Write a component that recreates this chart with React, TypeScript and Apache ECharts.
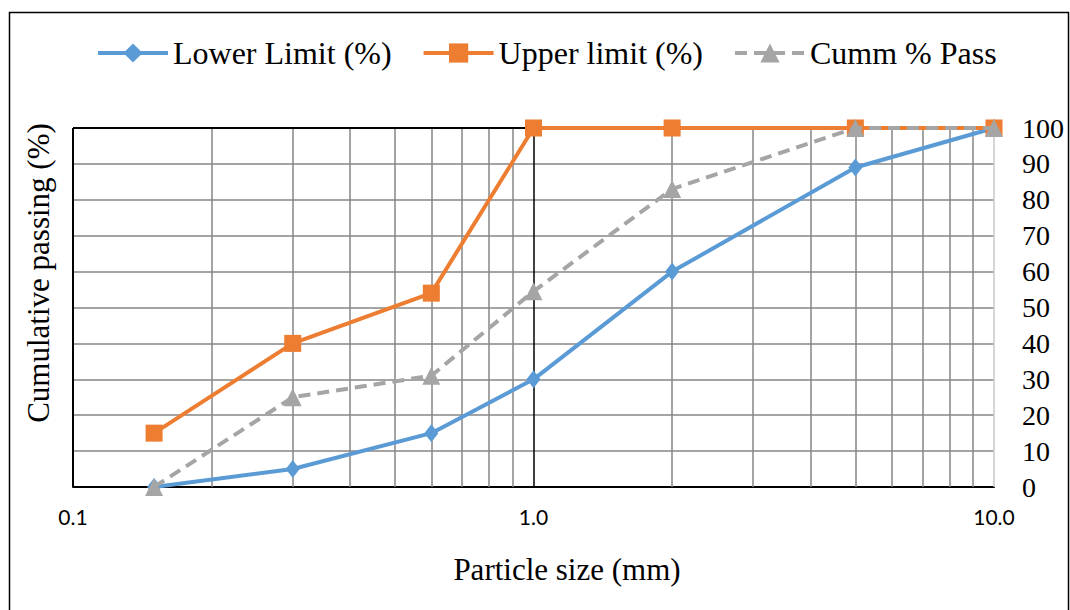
import React, { useEffect, useRef } from "react";
import * as echarts from "echarts";

const sizes = [0.15, 0.3, 0.6, 1.0, 2.0, 5.0, 10.0];
const lowerLimit = [0, 5, 15, 30, 60, 89, 100];
const upperLimit = [15, 40, 54, 100, 100, 100, 100];
const cummPass = [0, 25, 31, 54.5, 83, 100, 100];
const seriesNames = ["Lower Limit (%)", "Upper limit (%)", "Cumm % Pass"];
const minorGridValues = [0.2, 0.3, 0.4, 0.5, 0.6, 0.7, 0.8, 0.9, 2, 3, 4, 5, 6, 7, 8, 9];
const xTitle = "Particle size (mm)";
const yTitle = "Cumulative passing (%)";

const SERIF = "'Liberation Serif', 'Times New Roman', serif";

export default function App() {
  const ref = useRef<HTMLDivElement>(null);
  useEffect(() => {
    document.body.style.margin = "0";
    if (!ref.current) return;
    const chart = echarts.init(ref.current, undefined, { renderer: "svg" });
    const pairs = (ys: number[]) => sizes.map((x, i) => [x, ys[i]]);
    const lineW = 4;
    chart.setOption({
      animation: false,
      backgroundColor: "#fff",
      grid: { left: 73, right: 76, top: 128, bottom: 123 },
      legend: {
        data: seriesNames,
        left: 91,
        top: 32,
        itemWidth: 70,
        itemHeight: 24,
        itemGap: 30,
        lineStyle: { width: 4 },
        textStyle: { fontFamily: SERIF, fontSize: 32, color: "#000" },
      },
      graphic: [
        {
          type: "rect",
          shape: { x: 9.5, y: 12.5, width: 1059, height: 700 },
          style: { fill: "none", stroke: "#000", lineWidth: 1.5 },
          silent: true,
        },
        {
          type: "text",
          x: 38,
          y: 273,
          rotation: Math.PI / 2,
          style: {
            text: yTitle,
            fontFamily: SERIF,
            fontSize: 31,
            fill: "#000",
            align: "center",
            verticalAlign: "middle",
          },
        },
        {
          type: "text",
          x: 567,
          y: 569,
          style: {
            text: xTitle,
            fontFamily: SERIF,
            fontSize: 31,
            fill: "#000",
            align: "center",
            verticalAlign: "middle",
          },
        },
      ],
      xAxis: {
        type: "log",
        logBase: 10,
        min: 0.1,
        max: 10,
        axisLine: { show: true, lineStyle: { color: "#000", width: 2 } },
        axisTick: { show: false },
        splitLine: { show: false },
        axisLabel: {
          formatter: (v: number) => v.toFixed(1),
          fontFamily: "Lato, 'Open Sans', sans-serif",
          fontSize: 21,
          color: "#000",
          margin: 19,
        },
      },
      yAxis: {
        type: "value",
        position: "right",
        min: 0,
        max: 100,
        interval: 10,
        axisLine: { show: false },
        axisTick: { show: false },
        splitLine: { show: true, lineStyle: { color: "#868686", width: 1.5 } },
        axisLabel: {
          fontFamily: SERIF,
          fontSize: 28,
          color: "#000",
          margin: 28,
          align: "left",
        },
      },
      series: [
        {
          name: "grid",
          type: "line",
          data: [],
          z: 1,
          silent: true,
          markLine: {
            silent: true,
            z: 1,
            symbol: "none",
            label: { show: false },
            animation: false,
            lineStyle: { color: "#868686", width: 1.5, type: "solid" },
            data: [
              ...minorGridValues.map((v) => ({ xAxis: v })),
              { xAxis: 1, lineStyle: { color: "#000", width: 1.5, type: "solid" } },
              { xAxis: 10, lineStyle: { color: "#c8c8c8", width: 1.5, type: "solid" } },
              { xAxis: 0.1, lineStyle: { color: "#000", width: 2, type: "solid" } },
              { yAxis: 100, lineStyle: { color: "#000", width: 2, type: "solid" } },
            ],
          },
        },
        {
          name: seriesNames[0],
          type: "line",
          data: pairs(lowerLimit),
          z: 10,
          symbol: "diamond",
          symbolSize: [14, 18],
          color: "#5B9BD5",
          lineStyle: { color: "#5B9BD5", width: lineW },
          itemStyle: { color: "#5B9BD5" },
        },
        {
          name: seriesNames[1],
          type: "line",
          data: pairs(upperLimit),
          z: 11,
          symbol: "rect",
          symbolSize: 17,
          color: "#ED7D31",
          lineStyle: { color: "#ED7D31", width: lineW },
          itemStyle: { color: "#ED7D31" },
        },
        {
          name: seriesNames[2],
          type: "line",
          data: pairs(cummPass),
          z: 12,
          symbol: "triangle",
          symbolSize: 18,
          color: "#A5A5A5",
          lineStyle: { color: "#A5A5A5", width: lineW, type: [12, 7] },
          itemStyle: { color: "#A5A5A5" },
        },
      ],
    });
    return () => chart.dispose();
  }, []);
  return <div ref={ref} style={{ width: 1070, height: 610 }} />;
}
